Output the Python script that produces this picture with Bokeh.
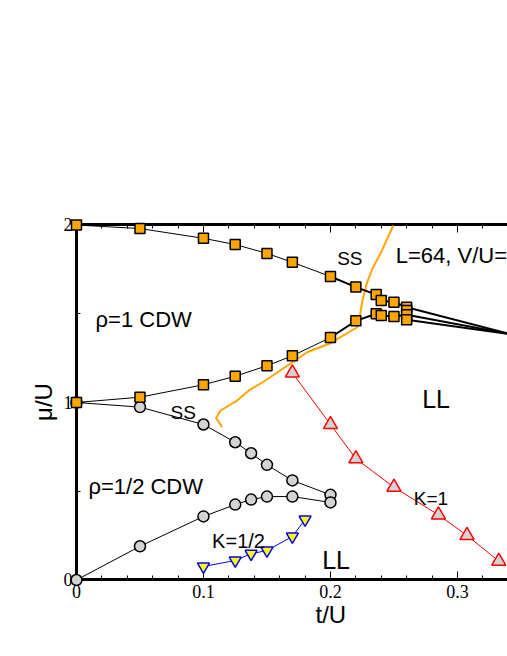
from bokeh.plotting import figure
from bokeh.models import Range1d, LinearAxis, FixedTicker, CustomJSTickFormatter, Label
from bokeh.embed import file_html
from bokeh.resources import INLINE

# ---- data (t/U, mu/U) ----
sq_up_t = [0, 0.05, 0.1, 0.125, 0.15, 0.17, 0.2, 0.22, 0.236, 0.24, 0.25, 0.26, 0.26]
sq_up_mu = [2.0, 1.98, 1.925, 1.89, 1.84, 1.79, 1.71, 1.65, 1.608, 1.575, 1.565, 1.537, 1.518]
sq_lo_t = [0, 0.05, 0.1, 0.125, 0.15, 0.17, 0.2, 0.22, 0.236, 0.24, 0.25, 0.26, 0.26]
sq_lo_mu = [1.0, 1.03, 1.10, 1.148, 1.207, 1.263, 1.366, 1.46, 1.50, 1.49, 1.485, 1.494, 1.466]

thin_up_t = [0, 0.05, 0.1, 0.125, 0.15, 0.17, 0.2]
thin_up_mu = [2.0, 1.98, 1.925, 1.89, 1.84, 1.79, 1.71]
thin_lo_t = [0, 0.05, 0.1, 0.125, 0.15, 0.17, 0.2]
thin_lo_mu = [1.0, 1.03, 1.10, 1.148, 1.207, 1.263, 1.366]

thick_up_t = [0.2, 0.22, 0.236, 0.24, 0.25, 0.26, 0.342]
thick_up_mu = [1.71, 1.65, 1.608, 1.575, 1.565, 1.537, 1.385]
thick_lo_t = [0.2, 0.22, 0.236, 0.24, 0.25, 0.26, 0.342]
thick_lo_mu = [1.366, 1.46, 1.50, 1.49, 1.485, 1.494, 1.385]
thick_lo2_t = [0.26, 0.342]
thick_lo2_mu = [1.466, 1.385]

circ_up_t = [0, 0.05, 0.1, 0.125, 0.1375, 0.15, 0.17, 0.2]
circ_up_mu = [1.0, 0.974, 0.876, 0.776, 0.714, 0.649, 0.561, 0.48]
circ_lo_t = [0, 0.05, 0.1, 0.125, 0.1375, 0.15, 0.17, 0.2]
circ_lo_mu = [0.0, 0.19, 0.358, 0.425, 0.453, 0.47, 0.47, 0.437]

k1_t = [0.17, 0.2, 0.22, 0.25, 0.285, 0.3075, 0.3325]
k1_mu = [1.167, 0.876, 0.683, 0.523, 0.367, 0.251, 0.106]

khalf_t = [0.1, 0.125, 0.1375, 0.15, 0.17, 0.18]
khalf_mu = [0.076, 0.11, 0.148, 0.166, 0.245, 0.341]

orange_t = [0.1147, 0.110, 0.1134, 0.120, 0.1265, 0.1357, 0.1488, 0.170, 0.1817,
            0.200, 0.221, 0.2228, 0.2252, 0.2283, 0.2331, 0.2394, 0.2494]
orange_mu = [0.861, 0.912, 0.955, 0.983, 1.011, 1.068, 1.124, 1.227, 1.283,
             1.334, 1.424, 1.473, 1.575, 1.665, 1.755, 1.839, 1.997]

x_ticks = [0, 0.1, 0.2, 0.3]
x_minor = [0.02, 0.04, 0.06, 0.08, 0.12, 0.14, 0.16, 0.18, 0.22, 0.24, 0.26, 0.28, 0.32]
y_ticks = [0, 1, 2]
y_minor = [0.5, 1.5]

labels = [
    ("\u03c1=1 CDW", 0.015, 1.465, "22px"),
    ("SS", 0.2053, 1.814, "19px"),
    ("L=64, V/U=", 0.2514, 1.828, "22px"),
    ("SS", 0.074, 0.944, "19px"),
    ("\u03c1=1/2 CDW", 0.0094, 0.527, "22px"),
    ("K=1/2", 0.1068, 0.2225, "20px"),
    ("K=1", 0.2656, 0.459, "19px"),
    ("LL", 0.2722, 1.0225, "25px"),
    ("LL", 0.1935, 0.114, "25px"),
]

X_MAX = 0.3394
# the x title sits under the centre of the original (wider) axis, so it is a
# left-aligned "below" title with a pixel offset
p = figure(width=507, height=650, output_backend="svg", toolbar_location=None,
           x_range=Range1d(-0.0055, X_MAX), y_range=Range1d(-0.03662, 2.04225),
           min_border_left=69, min_border_right=0, min_border_top=217, min_border_bottom=64,
           x_axis_location=None, y_axis_location=None,
           title="t/U", title_location="below")
p.title.align = "left"
p.title.offset = 246
p.title.standoff = -4
p.title.text_font = "Liberation Sans"
p.title.text_font_size = "24px"
p.title.text_font_style = "normal"
p.title.text_color = "black"
p.outline_line_color = None
p.xgrid.visible = False
p.ygrid.visible = False

fmt = CustomJSTickFormatter(code="return String(Math.round(tick*10)/10)")
blank = CustomJSTickFormatter(code="return ''")

# label-only axes at the frame edges
xlab = LinearAxis(ticker=FixedTicker(ticks=x_ticks), formatter=fmt)
ylab = LinearAxis(ticker=FixedTicker(ticks=y_ticks), formatter=fmt, axis_label="\u03bc/U")
for ax in [xlab, ylab]:
    ax.axis_line_color = None
    ax.major_tick_line_color = None
    ax.minor_tick_line_color = None
    ax.major_tick_in = 0
    ax.major_tick_out = 0
    ax.minor_tick_in = 0
    ax.minor_tick_out = 0
    ax.major_label_text_font = "Liberation Serif"
    ax.major_label_text_font_size = "18px"
    ax.major_label_text_color = "black"
    ax.axis_label_text_font = "Liberation Sans"
    ax.axis_label_text_font_size = "24px"
    ax.axis_label_text_font_style = "normal"
    ax.axis_label_text_color = "black"
xlab.major_label_standoff = -2
ylab.major_label_standoff = -3
ylab.axis_label_standoff = 4
p.add_layout(xlab, "below")
p.add_layout(ylab, "left")

# drawn axis lines with inward ticks, placed at t=0, mu=0, mu=2
xax = LinearAxis(ticker=FixedTicker(ticks=x_ticks, minor_ticks=x_minor), formatter=blank,
                 fixed_location=0, bounds=(-0.0012, X_MAX))
yax = LinearAxis(ticker=FixedTicker(ticks=y_ticks, minor_ticks=y_minor), formatter=blank,
                 fixed_location=0, bounds=(-0.0085, 2.0085))
top = LinearAxis(ticker=FixedTicker(ticks=x_ticks, minor_ticks=x_minor), formatter=blank,
                 fixed_location=2, bounds=(-0.0012, X_MAX))
for ax in [xax, yax, top]:
    ax.level = "underlay"
    ax.axis_line_width = 3
    ax.axis_line_color = "black"
    ax.major_tick_in = 8
    ax.major_tick_out = 0
    ax.minor_tick_in = 4
    ax.minor_tick_out = 0
    ax.major_tick_line_width = 1
    ax.minor_tick_line_width = 1
    ax.major_label_standoff = 0
p.add_layout(xax, "below")
p.add_layout(yax, "left")
p.add_layout(top, "above")

# lines
p.line(orange_t, orange_mu, line_color="#FFA500", line_width=2)
p.line(thin_up_t, thin_up_mu, line_color="black", line_width=1)
p.line(thin_lo_t, thin_lo_mu, line_color="black", line_width=1)
p.line(thick_up_t, thick_up_mu, line_color="black", line_width=2)
p.line(thick_lo_t, thick_lo_mu, line_color="black", line_width=2)
p.line(thick_lo2_t, thick_lo2_mu, line_color="black", line_width=2)
p.line(circ_up_t, circ_up_mu, line_color="black", line_width=1)
p.line(circ_lo_t, circ_lo_mu, line_color="black", line_width=1)
p.line(k1_t, k1_mu, line_color="red", line_width=1)
p.line(khalf_t, khalf_mu, line_color="blue", line_width=1)

# markers
p.scatter(circ_up_t, circ_up_mu, marker="circle", size=11, fill_color="#d3d3d3", line_color="black", line_width=1.5)
p.scatter(circ_lo_t, circ_lo_mu, marker="circle", size=11, fill_color="#d3d3d3", line_color="black", line_width=1.5)
p.scatter(sq_up_t, sq_up_mu, marker="square", size=10, fill_color="#FFA500", line_color="black", line_width=1.5)
p.scatter(sq_lo_t, sq_lo_mu, marker="square", size=10, fill_color="#FFA500", line_color="black", line_width=1.5)
p.scatter(k1_t, k1_mu, marker="triangle", size=14, fill_color="#d3d3d3", line_color="red", line_width=1.5)
p.scatter(khalf_t, khalf_mu, marker="inverted_triangle", size=12, fill_color="yellow", line_color="blue", line_width=1.5)

for txt, x, y, fs in labels:
    p.add_layout(Label(x=x, y=y, text=txt, text_font="Liberation Sans", text_font_size=fs,
                       text_color="black", text_baseline="alphabetic"))

open("out.html", "w").write(file_html(p, INLINE))
